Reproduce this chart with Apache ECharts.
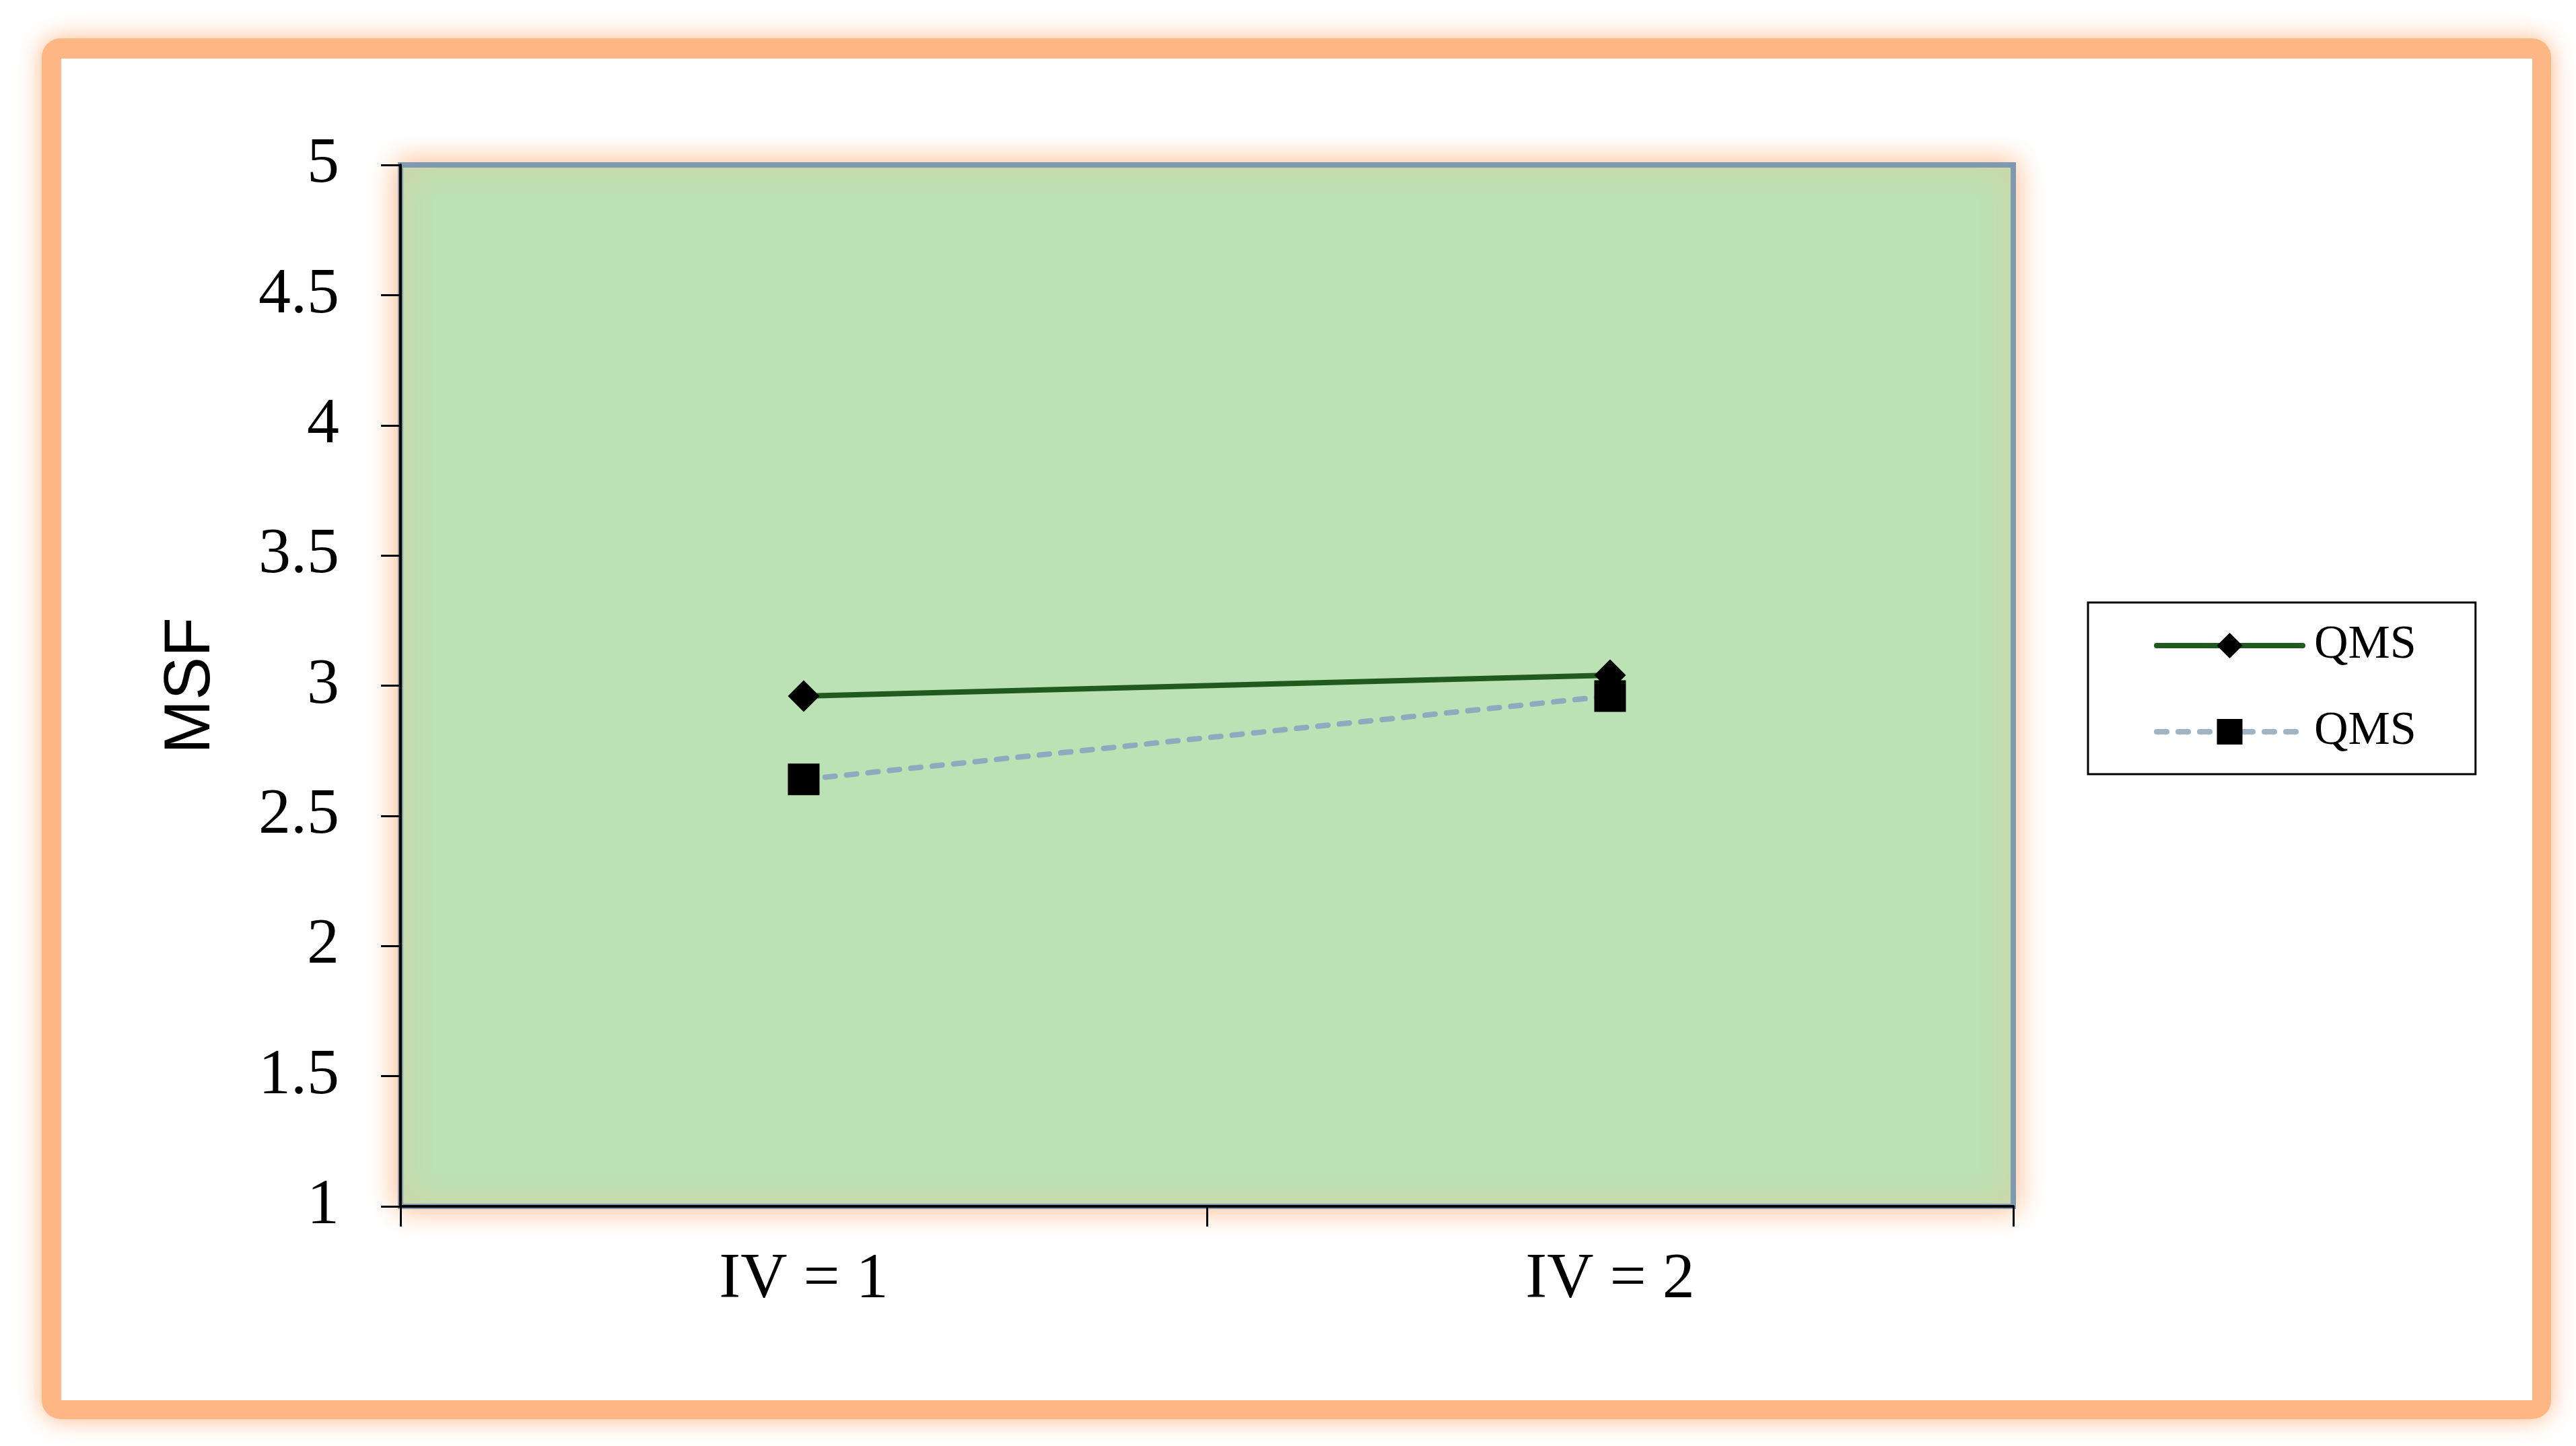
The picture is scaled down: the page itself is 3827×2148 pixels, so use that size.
<!DOCTYPE html>
<html>
<head>
<meta charset="utf-8">
<script src="https://cdn.jsdelivr.net/npm/echarts@6/dist/echarts.min.js"></script>
<style>
  html, body { margin: 0; padding: 0; background: #ffffff; }
  #chart { width: 3827px; height: 2148px; }
</style>
</head>
<body>
<div id="chart"></div>
<script>
// ---- data ----
const categories = ['IV = 1', 'IV = 2'];
const seriesIds = ['qms_a', 'qms_b'];
const legendLabels = ['QMS', 'QMS'];
const seriesA = [2.96, 3.04];
const seriesB = [2.64, 2.96];
const yTicks = { min: 1, max: 5, interval: 0.5 };
const yAxisTitle = 'MSF';

const chart = echarts.init(document.getElementById('chart'), null, { renderer: 'canvas' });

const serif = '"Liberation Serif", "Times New Roman", serif';
const sans = '"Liberation Sans", Arial, sans-serif';

const lineA = { color: '#215A1E', width: 8, cap: 'round' };
const lineB = { color: '#8FA9BE', width: 8, type: [15, 17], cap: 'round' };

const option = {
  backgroundColor: '#ffffff',
  animation: false,
  graphic: [
    {
      type: 'rect', z: -20, silent: true,
      shape: { x: 62, y: 57, width: 3728, height: 2051, r: 28 },
      style: { fill: '#FFB685', shadowBlur: 36, shadowColor: '#FFB685' }
    },
    {
      type: 'rect', z: -19, silent: true,
      shape: { x: 91, y: 87, width: 3671, height: 1993 },
      style: { fill: '#ffffff' }
    }
  ],
  grid: {
    show: true,
    left: 595, top: 245, width: 2396, height: 1547,
    outerBoundsMode: 'none',
    containLabel: false,
    backgroundColor: '#BBE1B4',
    borderColor: '#7F99B3',
    borderWidth: 8,
    shadowBlur: 40,
    shadowColor: '#FFB685'
  },
  legend: {
    orient: 'vertical',
    left: 3102, top: 895,
    data: [
      { name: seriesIds[0], lineStyle: lineA, itemStyle: { color: '#000000' } },
      { name: seriesIds[1], lineStyle: { color: '#A0B4C6', width: 8, type: [15, 17], cap: 'round' }, itemStyle: { color: '#000000' } }
    ],
    formatter: function (name) { return legendLabels[seriesIds.indexOf(name)]; },
    itemWidth: 217,
    itemHeight: 47.5,
    itemGap: 58,
    padding: [29, 88, 28, 98],
    borderColor: '#000000',
    borderWidth: 3,
    backgroundColor: '#ffffff',
    selectedMode: false,
    textStyle: { fontFamily: serif, fontSize: 70, color: '#000000', padding: [0, 0, 0, 12] }
  },
  xAxis: {
    type: 'category',
    data: categories,
    boundaryGap: true,
    axisLine: { show: true, lineStyle: { color: '#000000', width: 4 } },
    axisTick: { show: true, length: 30, lineStyle: { color: '#000000', width: 3 } },
    axisLabel: { fontFamily: serif, fontSize: 96, color: '#000000', margin: 62 },
    splitLine: { show: false }
  },
  yAxis: {
    type: 'value',
    min: yTicks.min, max: yTicks.max, interval: yTicks.interval,
    name: yAxisTitle,
    nameLocation: 'middle',
    nameRotate: 90,
    nameGap: 262,
    nameTextStyle: { fontFamily: sans, fontSize: 96, color: '#000000' },
    axisLine: { show: true, lineStyle: { color: '#000000', width: 4 } },
    axisTick: { show: true, length: 29, lineStyle: { color: '#000000', width: 3 } },
    axisLabel: { fontFamily: serif, fontSize: 96, color: '#000000', margin: 91 },
    splitLine: { show: false }
  },
  series: [
    {
      name: seriesIds[0], type: 'line', data: seriesA,
      symbol: 'diamond', symbolSize: 47,
      itemStyle: { color: '#000000' },
      lineStyle: lineA,
      z: 3
    },
    {
      name: seriesIds[1], type: 'line', data: seriesB,
      symbol: 'rect', symbolSize: 47,
      itemStyle: { color: '#000000' },
      lineStyle: lineB,
      z: 2
    }
  ]
};
chart.setOption(option);
</script>
</body>
</html>
